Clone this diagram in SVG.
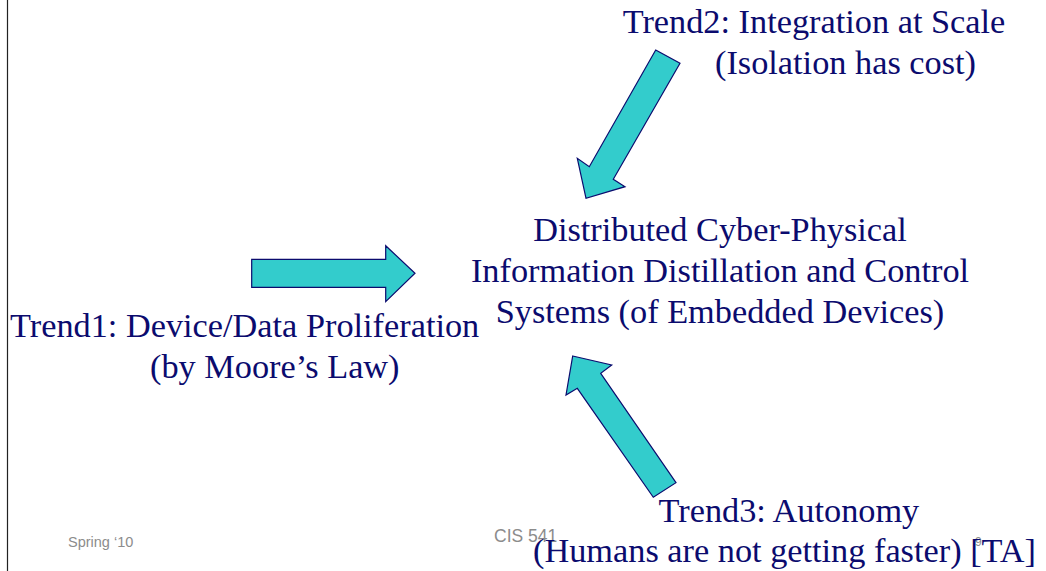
<svg xmlns="http://www.w3.org/2000/svg" width="1046" height="571" viewBox="0 0 1046 571">
<style>
.t{font-family:"Liberation Serif","Times New Roman",serif;font-size:34.3px;fill:#0b0b6e}
.f{font-family:"Liberation Sans",Arial,sans-serif;fill:#8c8c8c}
.arr{fill:#33cccc;stroke:#0b0b6e;stroke-width:1.2;stroke-linejoin:miter}
</style>
<rect width="1046" height="571" fill="#ffffff"/>
<line x1="7.5" y1="0" x2="7.5" y2="571" stroke="#222222" stroke-width="1.2"/>
<g id="footer">
<text class="f" x="68" y="547" font-size="14.5">Spring ‘10</text>
<text class="f" x="494" y="542" font-size="17.5">CIS 541</text>
<text class="f" x="975" y="546" font-size="12">9</text>
</g>
<g id="connectors">
<polygon class="arr" points="655.7,50 680,63.3 613.3,179.3 625,186.7 586,198.3 577.3,158.3 589.3,166.7"/>
<polygon class="arr" points="251.7,259.3 385.7,259.3 385.7,245.7 415,273.3 385.7,301.7 385.7,287.3 251.7,287.3"/>
<polygon class="arr" points="572.7,356 611.7,365 600.7,373.3 676,482.7 653.3,497.3 577.3,388.3 566,395"/>
</g>
<g id="center">
<text class="t" x="720" y="241" text-anchor="middle">Distributed Cyber-Physical</text>
<text class="t" x="720" y="282" text-anchor="middle">Information Distillation and Control</text>
<text class="t" x="720" y="323" text-anchor="middle">Systems (of Embedded Devices)</text>
</g>
<g id="trend1">
<text class="t" x="10" y="337">Trend1: Device/Data Proliferation</text>
<text class="t" x="150" y="378">(by Moore’s Law)</text>
</g>
<g id="trend2">
<text class="t" x="622.7" y="33">Trend2: Integration at Scale</text>
<text class="t" x="715" y="73.5">(Isolation has cost)</text>
</g>
<g id="trend3">
<text class="t" x="658.5" y="522">Trend3: Autonomy</text>
<text class="t" x="533" y="562">(Humans are not getting faster) [TA]</text>
</g>
</svg>
